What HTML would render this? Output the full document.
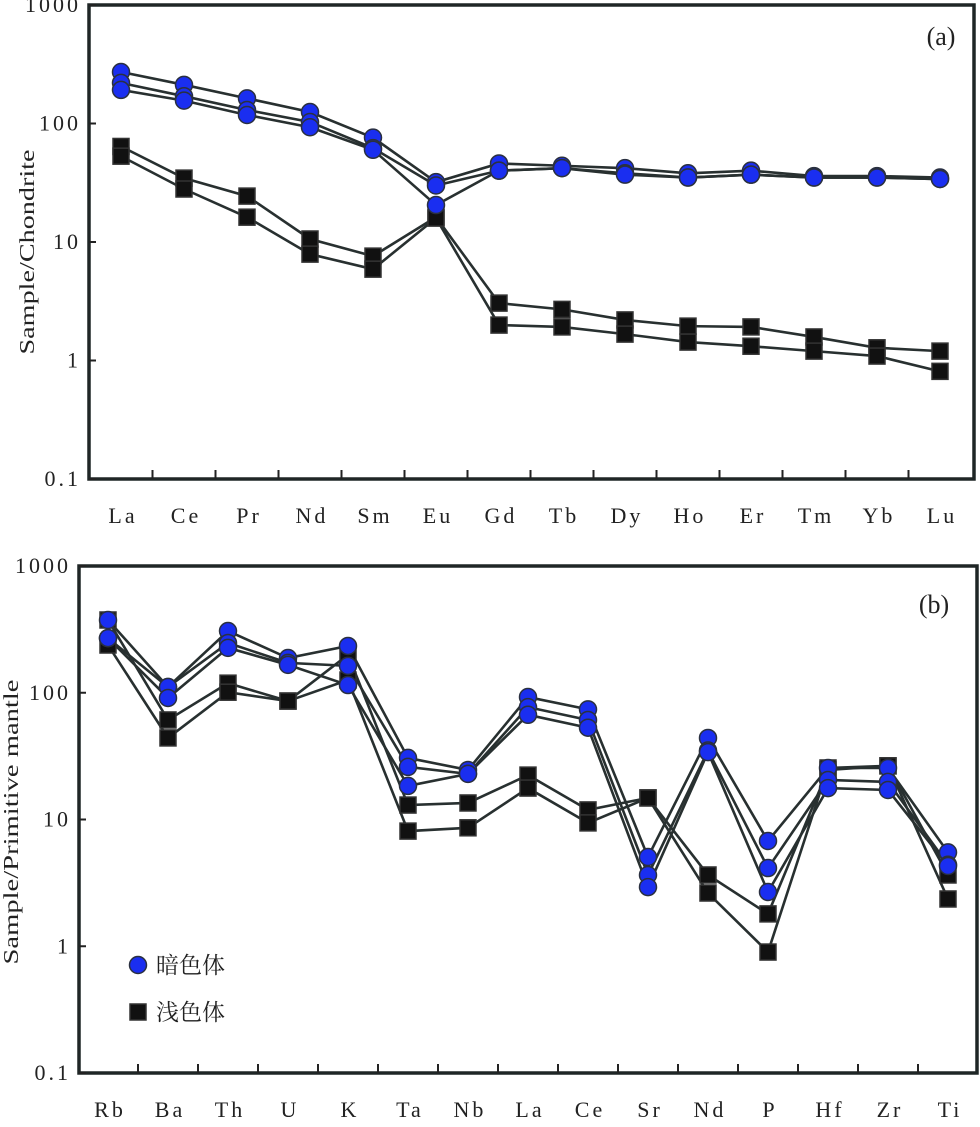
<!DOCTYPE html>
<html><head><meta charset="utf-8">
<style>
body{margin:0;background:#fff;}
svg text{font-family:"Liberation Serif","Noto Serif CJK SC",serif;fill:#222;}
</style></head>
<body>
<svg id="chart" width="980" height="1122" viewBox="0 0 980 1122" xmlns="http://www.w3.org/2000/svg"></svg>
<script>
// Panel (a) data: chondrite-normalized REE
const reeCategories = ["La","Ce","Pr","Nd","Sm","Eu","Gd","Tb","Dy","Ho","Er","Tm","Yb","Lu"];
const reeDark1 = [272,212,163,125,76,32,46,44,42,38,40,36,36,35];
const reeDark2 = [220,170,130,103,62,30,40,42,38,35,37,35,35,34];
const reeDark3 = [192,156,118,93,60,20.5,40,42,37,35,37,35,35,34];
const reeLight1 = [64,34.6,24.4,10.6,7.6,16.2,3.05,2.7,2.2,1.95,1.92,1.58,1.28,1.2];
const reeLight2 = [53,28,16.2,7.9,5.9,15.9,1.99,1.92,1.67,1.43,1.32,1.2,1.09,0.81];
const yTicksA = ["1000","100","10","1","0.1"];
// Panel (b) data: primitive-mantle normalized
const pmCategories = ["Rb","Ba","Th","U","K","Ta","Nb","La","Ce","Sr","Nd","P","Hf","Zr","Ti"];
const pmDark1 = [375,111,307,188,234,30.6,24.6,92.5,74,5.06,44,6.77,25.5,25.5,5.5];
const pmDark2 = [270,111,247,172,163,26,22.9,77,61,3.65,35,4.14,20.5,19.8,4.4];
const pmDark3 = [270,91,226,166,115,18.4,22.9,67,53,2.93,34,2.68,17.7,17.1,4.3];
const pmLight1 = [375,61,119,86,199,13,13.5,22.4,11.9,14.8,3.65,1.8,24.6,26.5,3.65];
const pmLight2 = [238,44,101,86,126,8.1,8.6,17.7,9.4,14.8,2.63,0.9,25.5,26.5,2.36];
const yTicksB = ["1000","100","10","1","0.1"];

const svg = document.getElementById('chart');
const NS = "http://www.w3.org/2000/svg";
function mk(tag, attrs, parent){
  const e = document.createElementNS(NS, tag);
  for (const k in attrs) e.setAttribute(k, attrs[k]);
  (parent||svg).appendChild(e);
  return e;
}

function panel(cfg){
  const g = mk('g', {});
  
  
  const {L,R,T,B,x0,dx} = cfg;
  const yScale = v => B - (Math.log10(v) + 1) / 4 * (B - T);
  const xScale = i => x0 + i * dx;
  const fr = mk('rect', {x:L, y:T, width:R-L, height:B-T, fill:'none', stroke:'#1f2626', 'stroke-width':3.5}, g);
  
  
  cfg.yTicks.forEach((t) => {
    const yy = yScale(parseFloat(t));
    const tl = mk('text', {x:L-8, y:yy+7, 'font-size':22, 'letter-spacing':3, 'text-anchor':'end'}, g);
    tl.textContent = t;
    
    
    const tk = mk('line', {x1:L, x2:L+7, y1:yy, y2:yy, stroke:'#222', 'stroke-width':2}, g);
    
    
  });
  cfg.cats.forEach((c, i) => {
    const xx = xScale(i);
    if (i > 0) {
      const tk = mk('line', {x1:xx - dx/2, x2:xx - dx/2, y1:B, y2:B-9, stroke:'#222', 'stroke-width':2}, g);
      
      
    }
    const tl = mk('text', {x:xx+2, y:cfg.labelY, 'font-size':22, 'letter-spacing':3, 'text-anchor':'middle'}, g);
    tl.textContent = c;
    
    
  });
  const yt = mk('text', {x:0, y:0, 'font-size':21, 'text-anchor':'middle', textLength:cfg.titleLen, lengthAdjust:'spacingAndGlyphs', transform:`translate(${cfg.titleX},${cfg.titleY}) rotate(-90)`}, g);
  yt.textContent = cfg.yTitle;
  
  
  const pl = mk('text', {x:cfg.letterX, y:cfg.letterY, 'font-size':26, 'text-anchor':'middle'}, g);
  pl.textContent = cfg.letter;
  
  
  const drawSeries = (vals, kind) => {
    const pts = vals.map((v,i) => [xScale(i), yScale(v)]);
    const ln = mk('polyline', {points: pts.map(p=>p.join(',')).join(' '), fill:'none', stroke:'#283030', 'stroke-width':2.6}, g);
    
    
    return pts;
  };
  const lightPts = cfg.light.map(s => drawSeries(s, 'light'));
  const darkPts = cfg.dark.map(s => drawSeries(s, 'dark'));
  lightPts.forEach(pts => pts.forEach(p => {
    const m = mk('rect', {x:p[0]-8, y:p[1]-8, width:16, height:16, fill:'#111', stroke:'#333', 'stroke-width':1.5}, g);
    
    
  }));
  darkPts.forEach(pts => pts.forEach(p => {
    const m = mk('circle', {cx:p[0], cy:p[1], r:8.5, fill:'#1a2ef0', stroke:'#2a3040', 'stroke-width':1.5}, g);
    
    
  }));
  return g;
}

panel({name:'panel-a-ree', L:89, R:974, T:5, B:479, x0:121, dx:63, cats:reeCategories,
  yTicks:yTicksA, labelY:523, yTitle:'Sample/Chondrite', titleX:34, titleY:252, titleLen:205, letter:'(a)', letterX:941, letterY:45,
  dark:[reeDark1, reeDark2, reeDark3], light:[reeLight1, reeLight2]});
panel({name:'panel-b-spider', L:79, R:977, T:566, B:1073, x0:108, dx:60, cats:pmCategories,
  yTicks:yTicksB, labelY:1117, yTitle:'Sample/Primitive mantle', titleX:18, titleY:822, titleLen:285, letter:'(b)', letterX:934, letterY:613,
  dark:[pmDark1, pmDark2, pmDark3], light:[pmLight1, pmLight2]});

const lg = mk('g', {});


const lc = mk('circle', {cx:138, cy:965, r:8.5, fill:'#1a2ef0', stroke:'#2a3040', 'stroke-width':1.5}, lg);


const lt1 = mk('text', {x:156, y:973, 'font-size':23}, lg);
lt1.textContent = '暗色体';


const ls = mk('rect', {x:130, y:1004, width:16, height:16, fill:'#111', stroke:'#333', 'stroke-width':1.5}, lg);


const lt2 = mk('text', {x:156, y:1020, 'font-size':23}, lg);
lt2.textContent = '浅色体';


</script>
</body></html>
